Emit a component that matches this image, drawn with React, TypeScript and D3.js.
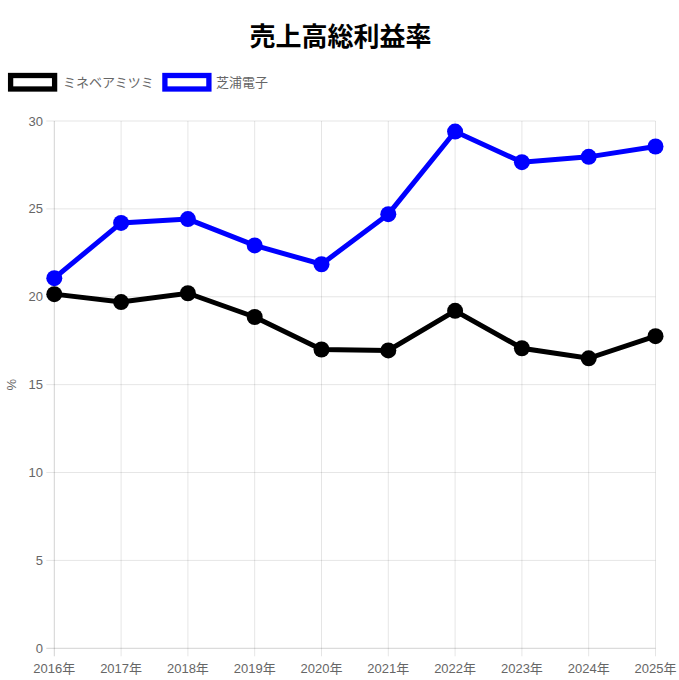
import React from "react";
import * as d3 from "d3";

const years = ["2016年", "2017年", "2018年", "2019年", "2020年", "2021年", "2022年", "2023年", "2024年", "2025年"];
const minebea = [20.15, 19.7, 20.2, 18.85, 17.0, 16.95, 19.2, 17.07, 16.5, 17.76];
const shibaura = [21.06, 24.2, 24.42, 22.92, 21.85, 24.7, 29.4, 27.66, 27.96, 28.55];
const yTicks = [0, 5, 10, 15, 20, 25, 30];

const seriesList = [
  { name: "ミネベアミツミ", color: "#000000", values: minebea },
  { name: "芝浦電子", color: "#0000ff", values: shibaura },
];

const W = 679;
const H = 680;
const left = 54.3;
const right = 655.5;
const top = 121;
const bottom = 648.3;
const font = "'Helvetica Neue', Helvetica, Arial, 'Liberation Sans', 'Noto Sans CJK JP', sans-serif";

export default function App() {
  const x = d3.scalePoint<string>().domain(years).range([left, right]);
  const y = d3.scaleLinear().domain([0, 30]).range([bottom, top]);
  const line = d3
    .line<number>()
    .x((_, i) => x(years[i]) as number)
    .y((d) => y(d));

  const legendItems = [
    { box: 8, text: 63 },
    { box: 162.3, text: 216 },
  ];

  return (
    <svg
      width={W}
      height={H}
      style={{ position: "absolute", left: 0, top: 0, background: "#fff" }}
      fontFamily={font}
    >
      <text x={340.5} y={45.5} textAnchor="middle" fontSize={26} fontWeight="bold" fill="#000">
        売上高総利益率
      </text>

      {seriesList.map((s, i) => (
        <g key={s.name}>
          <rect
            x={legendItems[i].box + 2.6}
            y={75.5}
            width={44}
            height={13.5}
            fill="#fff"
            stroke={s.color}
            strokeWidth={5.3}
          />
          <text x={legendItems[i].text} y={86.8} fontSize={13} fill="#666">
            {s.name}
          </text>
        </g>
      ))}

      {yTicks.map((t) => (
        <g key={"y" + t}>
          <line
            x1={left - 8}
            x2={right}
            y1={y(t)}
            y2={y(t)}
            stroke={t === 0 ? "rgba(0,0,0,0.18)" : "rgba(0,0,0,0.1)"}
            strokeWidth={1}
          />
          <text x={43} y={y(t)} dy="0.35em" textAnchor="end" fontSize={13} fill="#666">
            {t}
          </text>
        </g>
      ))}

      {years.map((yr, i) => (
        <g key={yr}>
          <line
            x1={x(yr)}
            x2={x(yr)}
            y1={top}
            y2={bottom + 8}
            stroke={i === 0 ? "rgba(0,0,0,0.18)" : "rgba(0,0,0,0.1)"}
            strokeWidth={1}
          />
          <text x={x(yr)} y={668} dy="0.35em" textAnchor="middle" fontSize={13} fill="#666">
            {yr}
          </text>
        </g>
      ))}

      <text
        transform={`translate(16, ${(top + bottom) / 2}) rotate(-90)`}
        textAnchor="middle"
        fontSize={13}
        fill="#666"
      >
        %
      </text>

      {seriesList.map((s) => (
        <g key={"s" + s.name}>
          <path d={line(s.values) || ""} fill="none" stroke={s.color} strokeWidth={5} strokeLinejoin="miter" />
          {s.values.map((v, i) => (
            <circle key={i} cx={x(years[i])} cy={y(v)} r={8} fill={s.color} />
          ))}
        </g>
      ))}
    </svg>
  );
}
